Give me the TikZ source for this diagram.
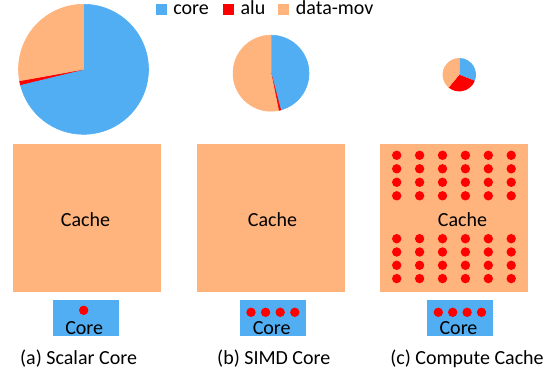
\documentclass[tikz,border=0pt]{standalone}
\usepackage{fontspec}
\setmainfont{Carlito}
\definecolor{coreblue}{RGB}{82,174,243}
\definecolor{movpeach}{RGB}{255,179,125}
\definecolor{alured}{RGB}{255,0,0}
\begin{document}
\begin{tikzpicture}[x=1pt, y=1pt,
    lbl/.style={inner sep=0pt, anchor=base, font=\fontsize{20}{24}\selectfont},
    keybox/.style={minimum size=11pt, inner sep=0pt},
    cachebox/.style={fill=movpeach, minimum size=148pt, inner sep=0pt},
    corebox/.style={fill=coreblue, minimum width=66pt, minimum height=36pt, inner sep=0pt},
    aludot/.style={fill=alured},
    slice/.style={draw=white, line width=0.6pt}]
\useasboundingbox (0,0) rectangle (557,372);
% legend
\node[keybox, fill=coreblue] (keycore) at (161.5,362.5) {};
\node[lbl, anchor=base west] (txtcore) at (173.2,357) {core};
\node[keybox, fill=alured] (keyalu) at (228,362.5) {};
\node[lbl, anchor=base west] (txtalu) at (240.4,357) {alu};
\node[keybox, fill=movpeach] (keymov) at (283.6,362.5) {};
\node[lbl, anchor=base west] (txtmov) at (295.7,357) {data-mov};
% pies
\coordinate (pieA) at (83.5,302.7);
\fill[slice, coreblue] (pieA) -- ++(90:65) arc[start angle=90, end angle=-166.3, radius=65] -- cycle;
\fill[slice, alured] (pieA) -- ++(-166.3:65) arc[start angle=-166.3, end angle=-169.8, radius=65] -- cycle;
\fill[slice, movpeach] (pieA) -- ++(-169.8:65) arc[start angle=-169.8, end angle=-270, radius=65] -- cycle;
\coordinate (pieB) at (271,298.8);
\fill[slice, coreblue] (pieB) -- ++(90:38) arc[start angle=90, end angle=-75.3, radius=38] -- cycle;
\fill[slice, alured] (pieB) -- ++(-75.3:38) arc[start angle=-75.3, end angle=-78.5, radius=38] -- cycle;
\fill[slice, movpeach] (pieB) -- ++(-78.5:38) arc[start angle=-78.5, end angle=-270, radius=38] -- cycle;
\coordinate (pieC) at (459.3,297.3);
\fill[coreblue] (pieC) -- ++(90:16.7) arc[start angle=90, end angle=-21.6, radius=16.7] -- cycle;
\fill[alured] (pieC) -- ++(-21.6:16.7) arc[start angle=-21.6, end angle=-129.7, radius=16.7] -- cycle;
\fill[movpeach] (pieC) -- ++(-129.7:16.7) arc[start angle=-129.7, end angle=-270, radius=16.7] -- cycle;
% caches
\node[cachebox] (cacheA) at (87,154) {};
\node[cachebox] (cacheB) at (271,154) {};
\node[cachebox] (cacheC) at (454,154) {};
\node[lbl] (cacheAtxt) at (85.5,145.3) {Cache};
\node[lbl] (cacheBtxt) at (272.5,145.3) {Cache};
\node[lbl] (cacheCtxt) at (462.5,145.3) {Cache};
\foreach \i in {0,...,5}
  \foreach \j in {0,...,3} {
    \fill[aludot] (396.7+22.9*\i, 216.7-13.5*\j) circle[radius=4.7];
    \fill[aludot] (396.7+22.9*\i, 133.3-13.3*\j) circle[radius=4.7];
  }
% cores
\node[corebox] (coreA) at (86,54) {};
\node[corebox] (coreB) at (273,54) {};
\node[corebox] (coreC) at (460,54) {};
\node[lbl] (coreAtxt) at (84.2,37.7) {Core};
\node[lbl] (coreBtxt) at (271.7,37.7) {Core};
\node[lbl] (coreCtxt) at (458.5,37.7) {Core};
\fill[aludot] (83.7,61.7) circle[radius=4.7];
\foreach \i in {0,...,3} {
  \fill[aludot] (251+14.6*\i, 59.7) circle[radius=4.7];
  \fill[aludot] (438.3+14.4*\i, 59.7) circle[radius=4.7];
}
% captions
\node[lbl] (capA) at (78.6,7) {(a) Scalar Core};
\node[lbl] (capB) at (273.8,7) {(b) SIMD Core};
\node[lbl] (capC) at (467,7) {(c) Compute Cache};
\end{tikzpicture}
\end{document}
